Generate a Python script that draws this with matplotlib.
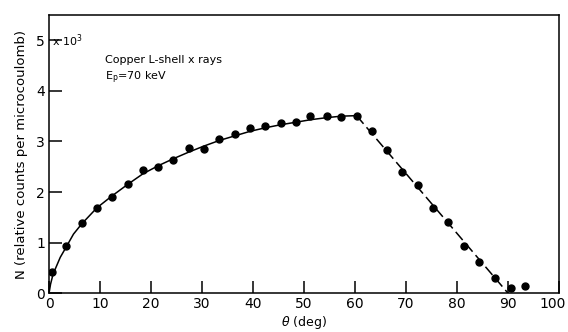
import numpy as np
from matplotlib import pyplot as plt
from matplotlib import transforms as mtransforms

# measured points: angle (deg) vs counts (x10^3)
theta = [0.6, 3.4, 6.4, 9.4, 12.4, 15.4, 18.4, 21.4, 24.4, 27.5, 30.3, 33.3,
         36.4, 39.4, 42.4, 45.4, 48.4, 51.2, 54.5, 57.3, 60.3, 63.4, 66.3, 69.3,
         72.4, 75.3, 78.3, 81.3, 84.3, 87.4, 90.5, 93.4]
counts = [0.42, 0.93, 1.38, 1.69, 1.90, 2.16, 2.44, 2.49, 2.63, 2.87, 2.85, 3.05,
          3.14, 3.27, 3.31, 3.36, 3.39, 3.51, 3.50, 3.49, 3.50, 3.21, 2.84, 2.40,
          2.14, 1.68, 1.41, 0.93, 0.61, 0.31, 0.10, 0.14]

# solid fitted curve
curve_x = [0, 0.3, 0.8, 2.2, 3.4, 4.8, 6.4, 9.4, 12.3, 15.4, 18.4, 21.4, 24.4,
           27.4, 30.4, 33.4, 36.4, 39.4, 42.4, 45.4, 48.4, 51.3, 54.4, 57.3, 60.3]
curve_y = [0, 0.18, 0.38, 0.71, 0.92, 1.17, 1.37, 1.69, 1.92, 2.15, 2.36, 2.52, 2.66,
           2.79, 2.91, 3.02, 3.11, 3.20, 3.27, 3.33, 3.38, 3.43, 3.47, 3.50, 3.51]

# dashed straight fall-off
dash_x = [60.3, 90.0]
dash_y = [3.51, 0.0]

xticks = [0, 10, 20, 30, 40, 50, 60, 70, 80, 90, 100]
yticks = [0, 1, 2, 3, 4, 5]

fig = plt.figure(figsize=(5.68, 3.32), dpi=100)
ax = fig.add_axes([0.0863, 0.1166, 0.898, 0.8384])

ax.plot(curve_x, curve_y, color='black', lw=1.1)
ax.plot(dash_x, dash_y, color='black', lw=1.1, dashes=(7, 3))
ax.plot(theta, counts, 'o', color='black', ms=5)

ax.set_xlim(0, 100)
ax.set_ylim(0, 5.5)
ax.set_xticks(xticks)
ax.set_yticks(yticks)
ax.tick_params(direction='in', length=9, width=1.1, labelsize=10, pad=3,
               top=False, right=False)
for s in ax.spines.values():
    s.set_linewidth(1.1)

# keep the last x label inside the figure, as in the original
last = ax.get_xticklabels()[-1]
last.set_transform(last.get_transform() +
                   mtransforms.ScaledTranslation(-5 / 72, 0, fig.dpi_scale_trans))

ax.text(0.6, 5.0, r'x 10$^3$', fontsize=8, va='center', ha='left')
ax.text(11.0, 4.60, 'Copper L-shell x rays', fontsize=8, va='center')
ax.text(11.0, 4.26, r'E$_\mathregular{p}$=70 keV', fontsize=8, va='center')

ax.set_xlabel(r'$\theta$ (deg)', fontsize=9, labelpad=2)
ax.set_ylabel('N (relative counts per microcoulomb)', fontsize=9.5, labelpad=6)

fig.savefig('out.png', dpi=100)
